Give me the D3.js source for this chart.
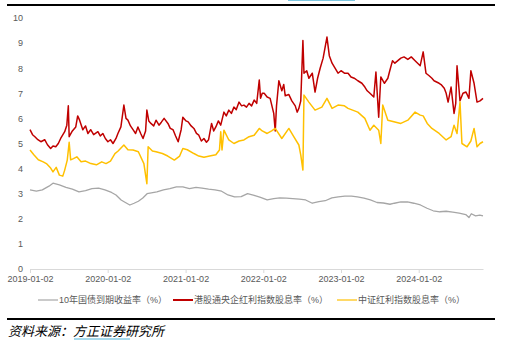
<!DOCTYPE html>
<html>
<head>
<meta charset="utf-8">
<script src="https://cdn.jsdelivr.net/npm/d3@7/dist/d3.min.js"></script>
<style>
  body { margin: 0; background: #fff; }
  svg { display: block; font-family: "Liberation Sans", "Noto Sans CJK SC", sans-serif; }
</style>
</head>
<body>
<svg id="chart"></svg>
<script>
const width = 520, height = 343;

// 10年国债到期收益率（%）
const bondData = [
	["2019-01-02",3.15],["2019-02-01",3.1],["2019-03-01",3.15],["2019-04-01",3.3],["2019-04-20",3.42],
	["2019-05-20",3.35],["2019-06-20",3.25],["2019-07-20",3.18],["2019-08-20",3.07],["2019-09-20",3.12],
	["2019-10-20",3.2],["2019-11-20",3.22],["2019-12-20",3.15],["2020-01-20",3.05],["2020-02-10",2.95],
	["2020-03-05",2.75],["2020-03-25",2.65],["2020-04-15",2.55],["2020-05-05",2.62],["2020-05-25",2.7],
	["2020-06-15",2.83],["2020-07-05",3.0],["2020-07-25",3.03],["2020-08-20",3.07],["2020-09-20",3.15],
	["2020-10-20",3.2],["2020-11-20",3.27],["2020-12-20",3.27],["2021-01-20",3.2],["2021-02-20",3.25],
	["2021-03-20",3.22],["2021-04-20",3.18],["2021-05-20",3.15],["2021-06-20",3.1],["2021-07-20",2.95],
	["2021-08-20",2.87],["2021-09-20",2.88],["2021-10-20",3.0],["2021-11-20",2.93],["2021-12-20",2.85],
	["2022-01-20",2.75],["2022-02-20",2.8],["2022-03-20",2.83],["2022-04-20",2.82],["2022-05-20",2.8],
	["2022-06-20",2.78],["2022-07-20",2.75],["2022-08-20",2.62],["2022-09-20",2.68],["2022-10-20",2.72],
	["2022-11-20",2.83],["2022-12-20",2.87],["2023-01-20",2.9],["2023-02-20",2.9],["2023-03-20",2.87],
	["2023-04-20",2.82],["2023-05-20",2.75],["2023-06-20",2.65],["2023-07-20",2.63],["2023-08-20",2.58],
	["2023-09-10",2.62],["2023-10-10",2.67],["2023-11-10",2.67],["2023-12-10",2.62],["2024-01-10",2.55],
	["2024-02-10",2.42],["2024-03-10",2.32],["2024-04-10",2.28],["2024-05-10",2.3],["2024-06-10",2.27],
	["2024-07-10",2.23],["2024-08-10",2.17],["2024-08-25",2.05],["2024-09-05",2.2],["2024-09-25",2.12],
	["2024-10-15",2.15],["2024-10-30",2.12]
];

// 港股通央企红利指数股息率（%）
const hkData = [
	["2019-01-02",5.55],["2019-01-14",5.35],["2019-01-25",5.27],["2019-02-08",5.15],["2019-02-22",5.07],
	["2019-03-12",5.15],["2019-03-25",4.95],["2019-04-09",4.8],["2019-04-20",4.9],["2019-05-03",4.87],
	["2019-05-15",5.0],["2019-05-26",5.2],["2019-06-14",5.47],["2019-06-24",5.73],["2019-07-01",6.5],
	["2019-07-05",5.27],["2019-07-20",5.5],["2019-08-05",5.66],["2019-08-14",6.1],["2019-08-23",5.93],
	["2019-09-07",5.55],["2019-09-20",5.7],["2019-10-01",5.4],["2019-10-14",5.55],["2019-10-28",5.35],
	["2019-11-17",5.47],["2019-11-28",5.3],["2019-12-10",5.4],["2019-12-22",5.2],["2020-01-03",5.07],
	["2020-01-15",5.15],["2020-01-27",5.0],["2020-02-10",5.2],["2020-02-19",5.4],["2020-03-04",5.66],
	["2020-03-18",6.53],["2020-03-28",6.0],["2020-04-06",5.93],["2020-04-18",5.7],["2020-04-30",5.55],
	["2020-05-12",5.4],["2020-05-23",5.66],["2020-06-05",5.4],["2020-06-16",5.2],["2020-06-28",5.5],
	["2020-07-04",6.33],["2020-07-13",5.9],["2020-07-23",5.8],["2020-08-05",5.7],["2020-08-16",5.93],
	["2020-08-30",5.73],["2020-09-10",5.85],["2020-09-23",6.0],["2020-10-11",5.8],["2020-10-22",5.6],
	["2020-11-04",5.55],["2020-11-16",5.3],["2020-11-28",5.07],["2020-12-12",5.55],["2020-12-20",6.05],
	["2021-01-04",5.9],["2021-01-14",5.86],["2021-01-28",5.7],["2021-02-10",5.6],["2021-02-22",5.4],
	["2021-03-05",5.33],["2021-03-17",5.1],["2021-03-29",5.2],["2021-04-10",5.05],["2021-04-20",5.15],
	["2021-05-04",5.8],["2021-05-14",5.5],["2021-05-24",5.66],["2021-06-05",5.9],["2021-06-16",5.73],
	["2021-07-01",6.25],["2021-07-12",6.1],["2021-07-24",6.33],["2021-08-05",6.2],["2021-08-17",6.45],
	["2021-08-28",6.35],["2021-09-10",6.65],["2021-09-22",6.5],["2021-10-03",6.53],["2021-10-15",6.45],
	["2021-10-27",6.6],["2021-11-08",6.5],["2021-11-20",6.73],["2021-12-02",6.6],["2021-12-14",7.53],
	["2021-12-20",6.8],["2021-12-28",7.0],["2022-01-06",7.0],["2022-01-20",6.85],["2022-02-03",6.8],
	["2022-02-20",6.2],["2022-02-27",5.5],["2022-03-05",6.5],["2022-03-16",7.5],["2022-03-30",7.1],
	["2022-04-08",7.35],["2022-04-15",6.9],["2022-05-02",6.95],["2022-05-16",6.7],["2022-06-01",6.5],
	["2022-06-10",6.25],["2022-06-18",6.4],["2022-06-27",6.7],["2022-07-07",9.1],["2022-07-12",7.8],
	["2022-07-25",7.9],["2022-08-04",7.6],["2022-08-20",7.8],["2022-09-02",7.05],["2022-09-14",7.6],
	["2022-09-26",8.0],["2022-10-10",8.4],["2022-10-28",9.24],["2022-11-08",8.5],["2022-11-21",8.2],
	["2022-12-05",8.0],["2022-12-19",7.8],["2023-01-02",7.9],["2023-01-18",7.8],["2023-02-04",7.8],
	["2023-02-18",7.65],["2023-03-05",7.6],["2023-03-22",7.5],["2023-04-10",7.4],["2023-04-24",7.25],
	["2023-05-05",7.1],["2023-05-18",7.0],["2023-06-05",6.85],["2023-06-15",7.85],["2023-06-28",6.05],
	["2023-07-08",7.65],["2023-07-25",7.4],["2023-08-10",7.6],["2023-08-19",7.9],["2023-09-01",8.3],
	["2023-09-12",8.2],["2023-09-26",8.3],["2023-10-10",8.4],["2023-10-25",8.45],["2023-11-12",8.35],
	["2023-11-28",8.45],["2023-12-16",8.3],["2024-01-09",8.1],["2024-01-23",8.65],["2024-02-05",7.8],
	["2024-02-20",7.7],["2024-03-04",7.6],["2024-03-14",7.5],["2024-04-07",7.4],["2024-04-16",7.35],
	["2024-05-01",7.2],["2024-05-10",7.0],["2024-05-19",6.65],["2024-06-02",7.25],["2024-06-16",6.2],
	["2024-06-24",6.6],["2024-06-30",8.1],["2024-07-14",6.7],["2024-07-28",7.0],["2024-08-11",7.05],
	["2024-08-25",6.8],["2024-09-03",7.9],["2024-09-18",7.4],["2024-10-02",6.65],["2024-10-16",6.7],
	["2024-10-30",6.8]
];

// 中证红利指数股息率（%）
const csiData = [
	["2019-01-02",4.74],["2019-01-20",4.55],["2019-02-10",4.35],["2019-03-05",4.27],["2019-03-20",4.2],
	["2019-04-09",4.02],["2019-04-20",3.87],["2019-05-05",4.05],["2019-05-20",3.74],["2019-06-05",3.7],
	["2019-06-14",3.94],["2019-06-26",4.34],["2019-07-05",5.05],["2019-07-12",4.35],["2019-07-25",4.4],
	["2019-08-10",4.47],["2019-08-30",4.27],["2019-09-20",4.3],["2019-10-15",4.2],["2019-11-10",4.15],
	["2019-12-05",4.27],["2019-12-25",4.2],["2020-01-15",4.3],["2020-02-05",4.6],["2020-02-20",4.7],
	["2020-03-18",4.94],["2020-04-06",4.75],["2020-04-30",4.74],["2020-05-25",4.67],["2020-06-20",4.2],
	["2020-07-04",3.4],["2020-07-10",4.87],["2020-07-30",4.7],["2020-08-16",4.67],["2020-09-15",4.6],
	["2020-10-10",4.5],["2020-11-10",4.34],["2020-12-05",4.5],["2020-12-20",4.8],["2021-01-10",4.75],
	["2021-02-10",4.6],["2021-03-05",4.5],["2021-03-29",4.45],["2021-04-25",4.5],["2021-05-24",4.55],
	["2021-06-10",4.74],["2021-06-16",5.47],["2021-06-22",4.74],["2021-07-01",5.53],["2021-07-24",5.14],
	["2021-08-17",5.0],["2021-09-10",5.1],["2021-10-03",5.14],["2021-10-27",5.27],["2021-11-20",5.33],
	["2021-12-14",5.6],["2021-12-28",5.5],["2022-01-20",5.4],["2022-02-10",5.5],["2022-02-27",5.6],
	["2022-03-30",5.2],["2022-05-02",5.6],["2022-05-25",5.27],["2022-06-18",4.94],["2022-06-27",4.54],
	["2022-07-07",3.94],["2022-07-12",6.93],["2022-08-04",6.65],["2022-09-02",6.33],["2022-10-04",6.45],
	["2022-10-28",6.8],["2022-11-21",6.4],["2022-12-19",6.53],["2023-01-18",6.5],["2023-02-04",6.4],
	["2023-03-22",6.25],["2023-04-24",6.0],["2023-05-18",5.53],["2023-06-05",5.73],["2023-06-28",5.53],
	["2023-07-08",5.0],["2023-07-17",6.53],["2023-08-10",5.93],["2023-09-12",5.86],["2023-10-10",5.8],
	["2023-11-12",5.93],["2023-12-16",6.25],["2024-01-09",6.13],["2024-01-23",6.1],["2024-02-11",5.8],
	["2024-03-04",5.6],["2024-04-07",5.4],["2024-05-10",5.14],["2024-06-02",5.27],["2024-06-16",5.73],
	["2024-06-30",5.4],["2024-07-14",6.65],["2024-07-23",5.0],["2024-08-16",4.87],["2024-09-03",5.1],
	["2024-09-18",5.6],["2024-10-02",4.87],["2024-10-16",5.0],["2024-10-30",5.07]
];

const xTickDates = ["2019-01-02","2020-01-02","2021-01-02","2022-01-02","2023-01-02","2024-01-02"];
const yTicks = [0,1,2,3,4,5,6,7,8,9,10];
const seriesNames = ["10年国债到期收益率（%）","港股通央企红利指数股息率（%）","中证红利指数股息率（%）"];
const seriesColors = ["#a6a6a6","#c00000","#ffc000"];

const parse = d3.timeParse("%Y-%m-%d");
const fmt = d3.timeFormat("%Y-%m-%d");

const svg = d3.select("#chart").attr("width", width).attr("height", height);

const xScale = d3.scaleTime()
	.domain([parse("2019-01-02"), parse("2024-10-30")])
	.range([30, 483]);

const yScale = d3.scaleLinear()
	.domain([0, 10])
	.range([269, 18]);

// frame lines of the report page
svg.append("line").attr("x1", 288).attr("x2", 355).attr("y1", 0.5).attr("y2", 0.5)
	.style("stroke", "#7cc6e0").style("stroke-width", 1.2);
svg.append("line").attr("x1", 7).attr("x2", 495).attr("y1", 5).attr("y2", 5)
	.style("stroke", "#000").style("stroke-width", 2);
svg.append("line").attr("x1", 7).attr("x2", 495).attr("y1", 319).attr("y2", 319)
	.style("stroke", "#000").style("stroke-width", 2);

// axes
const xAxis = svg.append("g")
	.attr("transform", "translate(0,269)")
	.call(d3.axisBottom(xScale)
		.tickValues(xTickDates.map(parse))
		.tickFormat(fmt)
		.tickSize(4)
		.tickSizeOuter(0)
		.tickPadding(3));
xAxis.select(".domain").style("stroke", "#d9d9d9");
xAxis.selectAll(".tick line").style("stroke", "#d9d9d9");
xAxis.selectAll("text").style("fill", "#595959").style("font-size", "9px");

const yAxis = svg.append("g")
	.attr("transform", "translate(23,0)")
	.call(d3.axisLeft(yScale).tickValues(yTicks).tickSize(0).tickPadding(0));
yAxis.select(".domain").remove();
yAxis.selectAll("text").style("fill", "#595959").style("font-size", "9px");

// lines
const line = d3.line()
	.x(d => xScale(parse(d[0])))
	.y(d => yScale(d[1]));

const seriesData = [bondData, hkData, csiData];
const seriesWidths = [1.3, 1.5, 1.5];
seriesData.forEach((data, i) => {
	svg.append("path")
		.datum(data)
		.attr("d", line)
		.style("fill", "none")
		.style("stroke", seriesColors[i])
		.style("stroke-width", seriesWidths[i])
		.style("stroke-linejoin", "round");
});

// legend
const legendX = [38, 173, 337];
const legend = svg.append("g").attr("transform", "translate(0,300)");
seriesNames.forEach((name, i) => {
	legend.append("line")
		.attr("x1", legendX[i]).attr("x2", legendX[i] + 20)
		.attr("y1", 0).attr("y2", 0)
		.style("stroke", seriesColors[i])
		.style("stroke-width", i === 1 ? 2 : 1.2);
	legend.append("text")
		.attr("x", legendX[i] + 21)
		.attr("y", 0)
		.attr("dy", "0.35em")
		.style("font-size", "9px")
		.style("fill", "#595959")
		.text(name);
});

// source note
const src = svg.append("text")
	.attr("x", 8).attr("y", 336)
	.style("font-family", "'Noto Sans CJK SC', sans-serif")
	.style("font-size", "13px")
	.style("font-style", "italic")
	.style("fill", "#000");
src.append("tspan").text("资料来源：");
src.append("tspan").text("方正证券");
src.append("tspan").text("研究所");
svg.append("line").attr("x1", 74).attr("x2", 130).attr("y1", 339).attr("y2", 339)
	.style("stroke", "#4fb3d9").style("stroke-width", 1);
</script>
</body>
</html>
